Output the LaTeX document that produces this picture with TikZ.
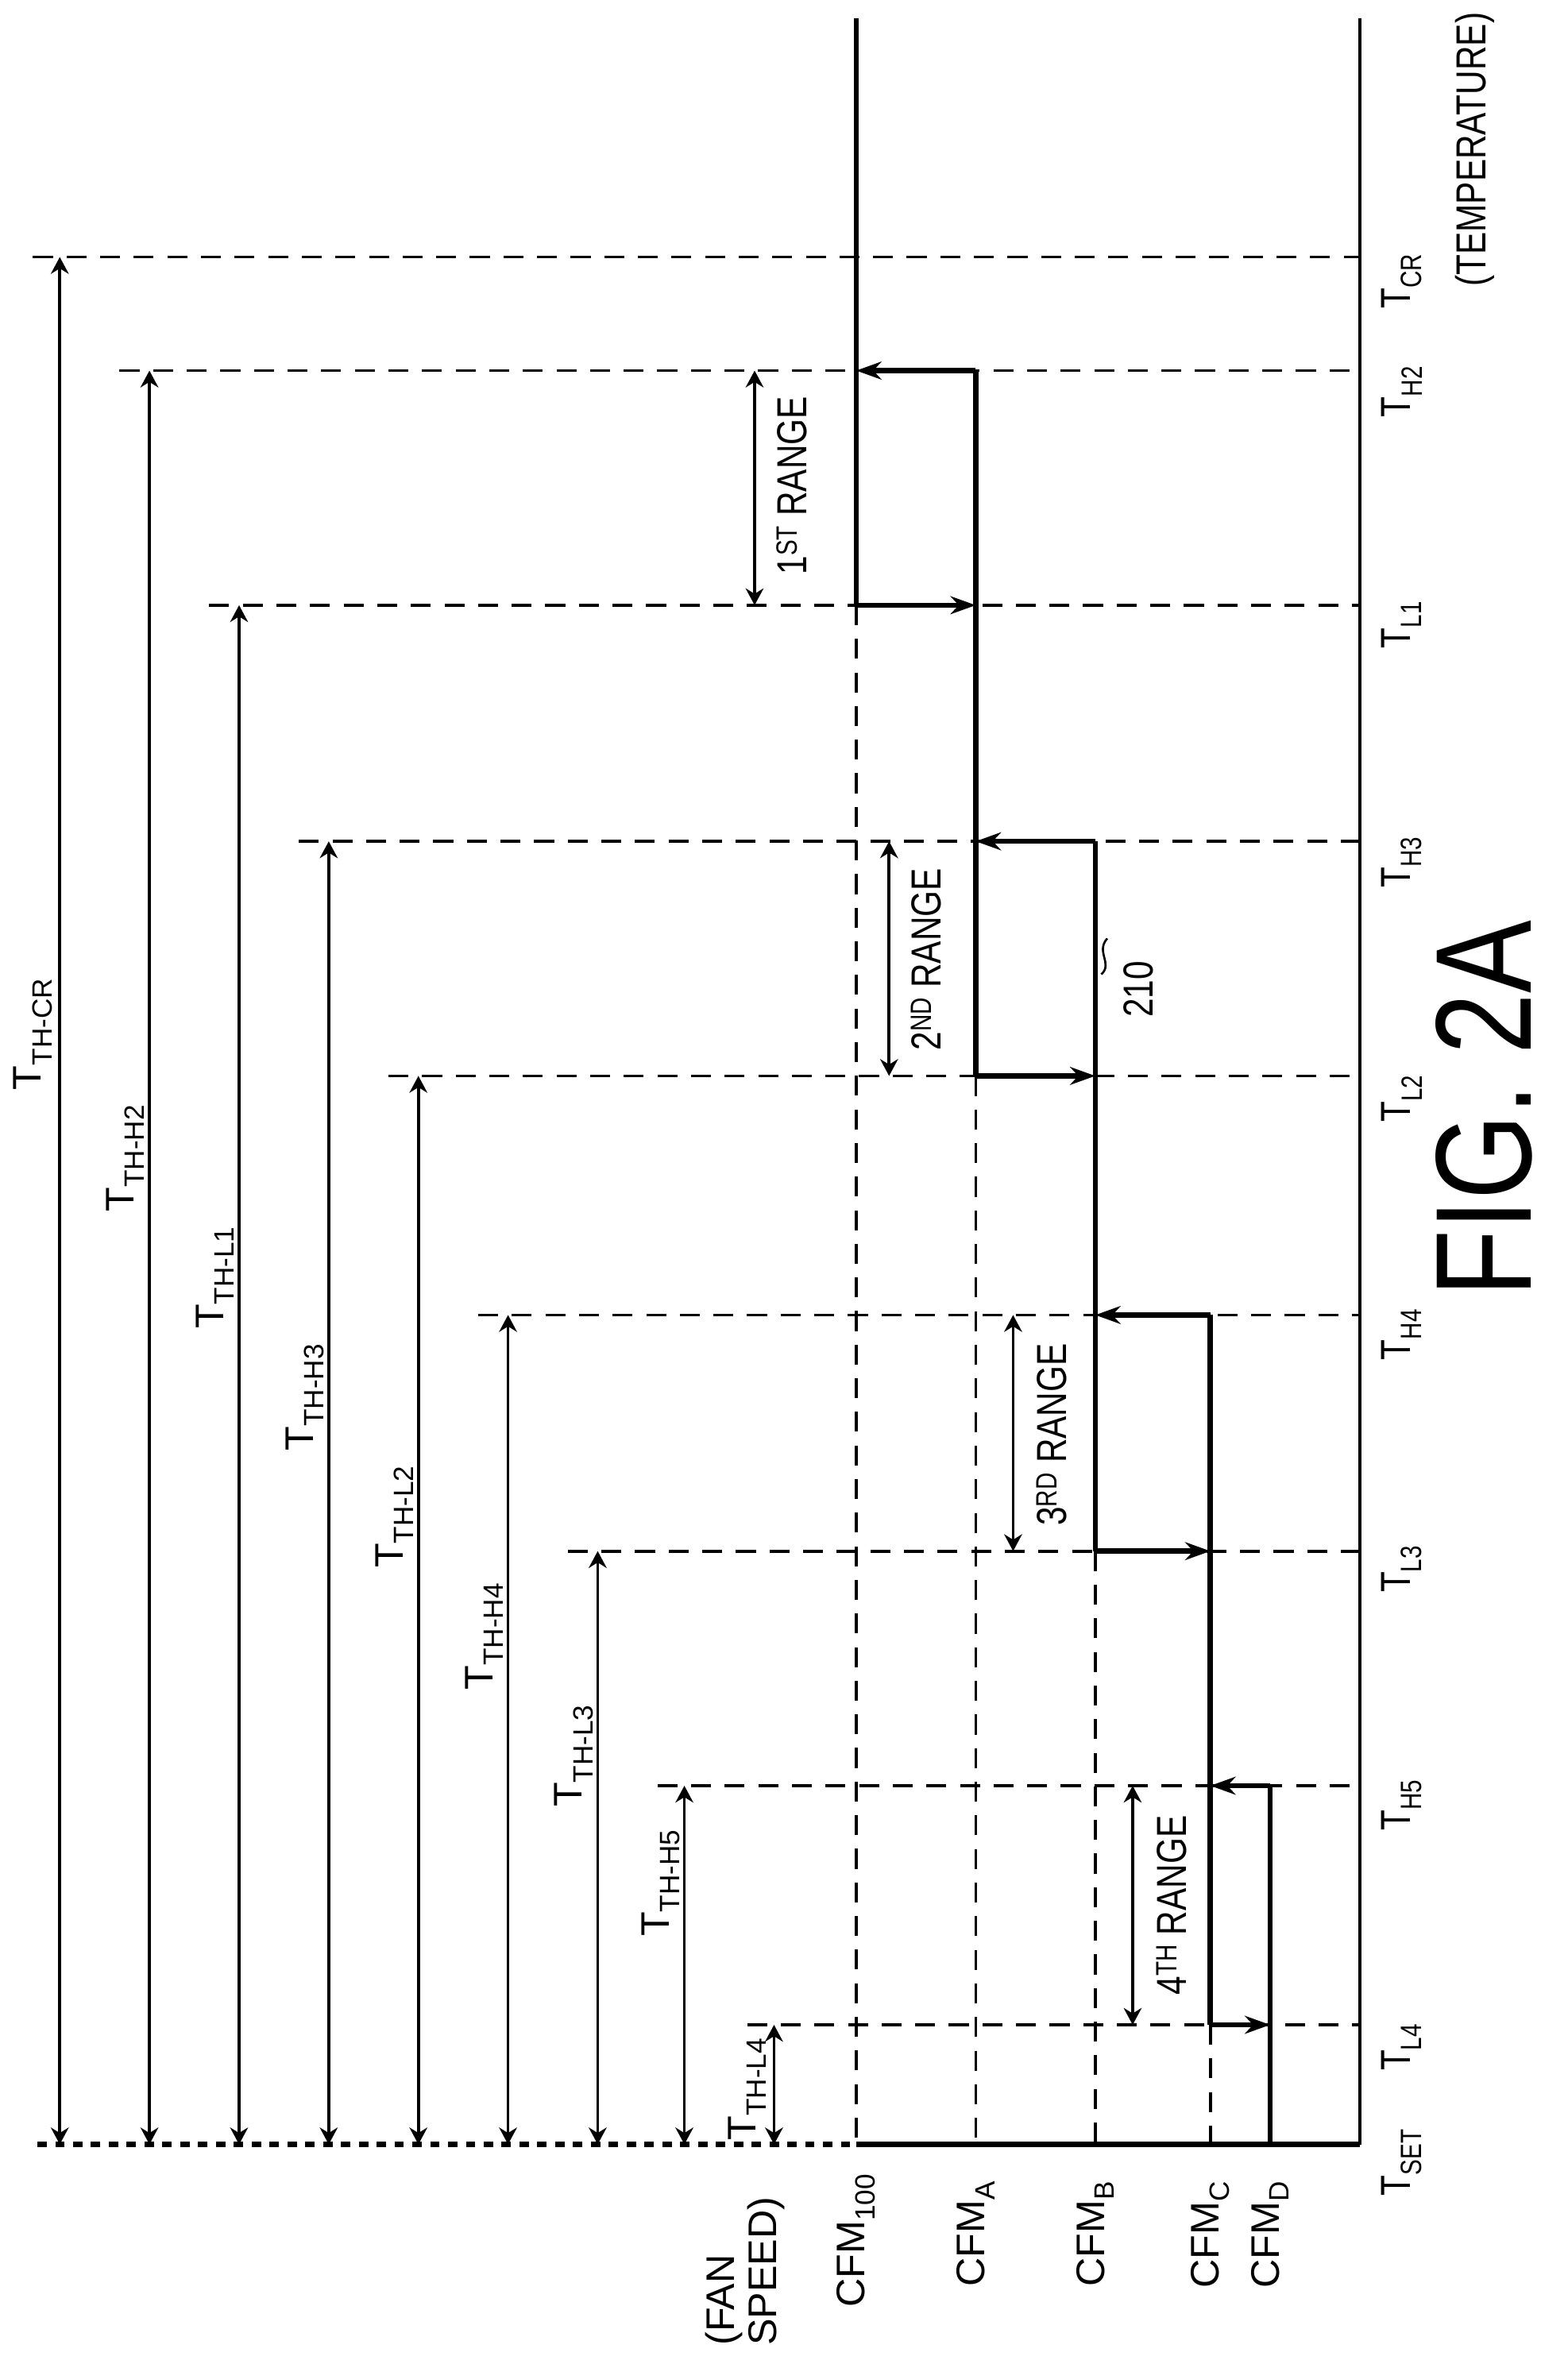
\documentclass[tikz,border=0pt]{standalone}
\usepackage{fontspec}
\setmainfont{Liberation Sans}
\newfontfamily\narrowfont[FakeStretch=0.8]{Liberation Sans}
\usetikzlibrary{arrows.meta}
\begin{document}
\begin{tikzpicture}[x=0.05cm,y=-0.05cm,
  thin line/.style={line width=2.8pt},
  dash line/.style={line width=2.8pt,dash pattern=on 19pt off 13pt},
  thick line/.style={line width=5pt},
  dim/.style={line width=2.8pt,{Stealth[length=16pt,width=17pt]}-{Stealth[length=16pt,width=17pt]}},
  step arrow/.style={line width=5pt,-{Stealth[length=24pt,width=17pt]}},
  lbl/.style={rotate=90,font=\fontsize{38}{40}\selectfont,inner sep=2pt},
  nlbl/.style={rotate=90,font=\narrowfont\fontsize{40}{44}\selectfont,inner sep=2pt}]
\useasboundingbox (0,0) rectangle (1049,1582);
\foreach \n/\y in {SET/1435,L4/1355,H5/1195,L3/1038,H4/880,L2/720,H3/563,L1/405,H2/248,CR/172}{
  \coordinate (ax\n) at (910,\y);}
\foreach \n/\x/\y in {CR/22/172,H2/80/248,L1/140/405,H3/200/563,L2/260/720,H4/320/880,L3/380/1038,H5/440/1195,L4/500/1355}{
  \coordinate (l\n) at (\x,\y);
  \draw[dash line] (l\n) -- (ax\n);}
\coordinate (axtop) at (910,12);
\draw[thin line] (axtop) -- (axSET);
\coordinate (bl) at (25,1435);
\coordinate (c100b) at (573,1435);
\draw[line width=5pt,dash pattern=on 9pt off 8pt] (bl) -- (c100b);
\draw[thick line] (c100b) -- (axSET);
\coordinate (cAb) at (653,1435);\coordinate (cBb) at (733,1435);\coordinate (cCb) at (810,1435);\coordinate (cDb) at (850,1435);
\coordinate (p100) at (573,405);\coordinate (pA) at (653,720);\coordinate (pB) at (733,1038);\coordinate (pC) at (810,1355);
\draw[dash line] (p100) -- (c100b);
\draw[dash line] (pA) -- (cAb);
\draw[dash line] (pB) -- (cBb);
\draw[dash line] (pC) -- (cCb);
\coordinate (top100) at (573,12);
\draw[thick line] (top100) -- (p100);
\draw[step arrow] (p100) -- (653,405);
\draw[thick line] (653,248) -- (pA);
\draw[step arrow] (653,248) -- (573,248);
\draw[step arrow] (pA) -- (733,720);
\draw[thick line] (733,563) -- (pB);
\draw[step arrow] (733,563) -- (653,563);
\draw[step arrow] (pB) -- (810,1038);
\draw[thick line] (810,880) -- (pC);
\draw[step arrow] (810,880) -- (733,880);
\draw[step arrow] (pC) -- (850,1355);
\draw[thick line] (850,1195) -- (cDb);
\draw[step arrow] (850,1195) -- (810,1195);
\foreach \x/\y/\t in {40/172/CR,100/248/H2,160/405/L1,220/563/H3,280/720/L2,340/880/H4,400/1038/L3,458/1195/H5,518/1355/L4}{
  \coordinate (dt\t) at (\x,\y);
  \coordinate (db\t) at (\x,1435);
  \draw[dim] (dt\t) -- (db\t);}
\node[lbl] (tcr) at (22,692) {T\textsubscript{TH-CR}};
\node[lbl] (th2) at (84,775) {T\textsubscript{TH-H2}};
\node[lbl] (tl1) at (144,855) {T\textsubscript{TH-L1}};
\node[lbl] (th3) at (204,935) {T\textsubscript{TH-H3}};
\node[lbl] (tl2) at (264,1015) {T\textsubscript{TH-L2}};
\node[lbl] (th4) at (324,1095) {T\textsubscript{TH-H4}};
\node[lbl] (tl3) at (384,1175) {T\textsubscript{TH-L3}};
\node[lbl] (th5) at (442,1260) {T\textsubscript{TH-H5}};
\node[lbl] (tl4) at (500,1398) {T\textsubscript{TH-L4}};
\draw[dim] (505,248) -- (505,405);
\draw[dim] (595,563) -- (595,720);
\draw[dim] (678,880) -- (678,1038);
\draw[dim] (758,1195) -- (758,1355);
\node[nlbl] (r1) at (530,325) {1\textsuperscript{ST} RANGE};
\node[nlbl] (r2) at (620,642) {2\textsuperscript{ND} RANGE};
\node[nlbl] (r3) at (704,960) {3\textsuperscript{RD} RANGE};
\node[nlbl] (r4) at (784,1275) {4\textsuperscript{TH} RANGE};
\draw[line width=2pt] (737,652) .. controls (745,645) and (733,637) .. (741,628);
\node[nlbl] (n210) at (762,662) {210};
\foreach \n/\t/\y in {set/SET/1447,l4/L4/1370,h5/H5/1208,l3/L3/1050,h4/H4/893,l2/L2/735,h3/H3/577,l1/L1/418,h2/H2/262,cr/CR/188}{
  \node[nlbl] (a\n) at (938,\y) {T\textsubscript{\t}};}
\node[nlbl] (temp) at (987,100) {(TEMPERATURE)};
\node[lbl,anchor=east] (cf100) at (573,1453) {CFM\textsubscript{100}};
\node[lbl,anchor=east] (cfa) at (653,1458) {CFM\textsubscript{A}};
\node[lbl,anchor=east] (cfb) at (733,1458) {CFM\textsubscript{B}};
\node[lbl,anchor=east] (cfc) at (810,1458) {CFM\textsubscript{C}};
\node[lbl,anchor=east] (cfd) at (850,1458) {CFM\textsubscript{D}};
\node[lbl,anchor=north east,align=left,inner sep=0pt] (fan) at (472,1470) {(FAN\\SPEED)};
\node[rotate=90,font=\narrowfont\fontsize{130}{130}\selectfont] (fig) at (993,742) {FIG. 2A};
\end{tikzpicture}
\end{document}
